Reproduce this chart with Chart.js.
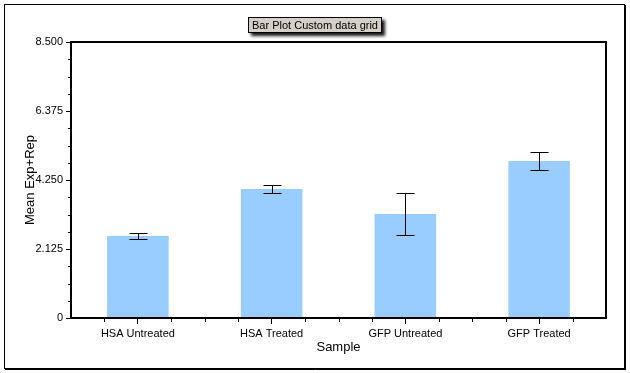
<!DOCTYPE html>
<html>
<head>
<meta charset="utf-8">
<script src="https://cdn.jsdelivr.net/npm/chart.js@4"></script>
<style>
  html, body { margin: 0; padding: 0; background: #fff; }
  #wrap { width: 630px; height: 373px; position: relative; }
</style>
</head>
<body>
<div id="wrap"><canvas id="chartBars"></canvas></div>
<script>
const FONT = "'Liberation Sans', Arial, sans-serif";
const BAR = "#99ccff", INK = "#000";

const categories = ["HSA Untreated", "HSA Treated", "GFP Untreated", "GFP Treated"];
const means = [2.525, 3.97, 3.20, 4.835];
const errors = [0.09, 0.13, 0.65, 0.28];
const yTicks = [0, 2.125, 4.25, 6.375, 8.5];
const chartTitle = "Bar Plot Custom data grid";

// frame, title box, plot box, minor ticks and error bars
const decor = {
  id: "decor",
  beforeDraw(chart) {
    const ctx = chart.ctx;
    ctx.save();
    ctx.fillStyle = "#fff";
    ctx.fillRect(0, 0, chart.width, chart.height);
    ctx.strokeStyle = INK;
    ctx.lineWidth = 1;
    ctx.strokeRect(4.5, 4.5, 620, 364);
    ctx.beginPath();
    ctx.moveTo(625.5, 5); ctx.lineTo(625.5, 370);
    ctx.moveTo(5, 369.5); ctx.lineTo(626, 369.5);
    ctx.stroke();
    ctx.restore();
  },
  afterDatasetsDraw(chart) {
    const ctx = chart.ctx, y = chart.scales.y;
    const meta = chart.getDatasetMeta(0);
    ctx.save();
    ctx.strokeStyle = INK;
    ctx.lineWidth = 1;
    meta.data.forEach((bar, i) => {
      const x = Math.round(bar.x) + 0.5;
      const hi = Math.round(y.getPixelForValue(means[i] + errors[i])) + 0.5;
      const lo = Math.round(y.getPixelForValue(means[i] - errors[i])) + 0.5;
      ctx.beginPath();
      ctx.moveTo(x, hi); ctx.lineTo(x, lo);
      ctx.moveTo(x - 9, hi); ctx.lineTo(x + 9, hi);
      ctx.moveTo(x - 9, lo); ctx.lineTo(x + 9, lo);
      ctx.stroke();
    });
    ctx.restore();
  },
  afterDraw(chart) {
    const ctx = chart.ctx, a = chart.chartArea;
    const x = chart.scales.x, y = chart.scales.y;
    ctx.save();
    ctx.strokeStyle = INK;
    ctx.lineWidth = 2;
    ctx.strokeRect(a.left, a.top, a.right - a.left, a.bottom - a.top);

    ctx.lineWidth = 1;
    ctx.beginPath();
    // minor y ticks
    for (let i = 0; i < yTicks.length - 1; i++) {
      const step = (yTicks[i + 1] - yTicks[i]) / 4;
      for (let k = 1; k < 4; k++) {
        const py = Math.round(y.getPixelForValue(yTicks[i] + step * k)) + 0.5;
        ctx.moveTo(a.left - 3, py); ctx.lineTo(a.left, py);
      }
    }
    // minor x ticks every quarter category
    const w = (a.right - a.left) / categories.length;
    for (let q = 1; q < categories.length * 4; q++) {
      if (q % 4 === 2) continue;
      const px = Math.round(a.left + q * w / 4) + 0.5;
      ctx.moveTo(px, a.bottom); ctx.lineTo(px, a.bottom + 4);
    }
    ctx.stroke();

    // title box
    ctx.font = "11px " + FONT;
    const tw = ctx.measureText(chartTitle).width;
    const bw = Math.round(tw + 8), bh = 16;
    const bx = Math.round(315 - bw / 2), by = 17;
    ctx.save();
    ctx.shadowColor = "rgba(0,0,0,0.9)";
    ctx.shadowBlur = 3;
    ctx.shadowOffsetX = 3;
    ctx.shadowOffsetY = 3;
    ctx.fillStyle = "#d4d0c8";
    ctx.fillRect(bx, by, bw, bh);
    ctx.restore();
    ctx.strokeStyle = INK;
    ctx.strokeRect(bx + 0.5, by + 0.5, bw - 1, bh - 1);
    ctx.fillStyle = INK;
    ctx.textAlign = "center";
    ctx.textBaseline = "middle";
    ctx.fillText(chartTitle, bx + bw / 2, by + bh / 2 + 1);
    ctx.restore();
  }
};

new Chart(document.getElementById("chartBars"), {
  type: "bar",
  data: {
    labels: categories,
    datasets: [{
      data: means,
      backgroundColor: BAR,
      borderWidth: 0,
      barPercentage: 0.46,
      categoryPercentage: 1
    }]
  },
  options: {
    responsive: true,
    maintainAspectRatio: false,
    animation: false,
    layout: { padding: { left: 10, top: 42, right: 24, bottom: 0 } },
    plugins: { legend: { display: false }, tooltip: { enabled: false } },
    scales: {
      x: {
        afterFit: s => { s.height = 55; },
        grid: { offset: false, drawOnChartArea: false, tickLength: 6, color: INK },
        border: { color: INK, width: 2 },
        ticks: { color: INK, font: { family: FONT, size: 11 }, padding: 3, maxRotation: 0 },
        title: { display: true, text: "Sample", color: INK,
          font: { family: FONT, size: 13 }, padding: { top: 0, bottom: 18 } }
      },
      y: {
        min: 0, max: 8.5,
        afterFit: s => { s.width = 61; },
        afterBuildTicks: s => { s.ticks = yTicks.map(v => ({ value: v })); },
        grid: { drawOnChartArea: false, tickLength: 5, color: INK },
        border: { color: INK, width: 2 },
        ticks: {
          color: INK, font: { family: FONT, size: 11 }, padding: 3,
          callback: v => v === 0 ? "0" : v.toFixed(3)
        },
        title: { display: true, text: "Mean Exp+Rep", color: INK,
          font: { family: FONT, size: 13 }, padding: { top: 13, bottom: 0 } }
      }
    }
  },
  plugins: [decor]
});
</script>
</body>
</html>
